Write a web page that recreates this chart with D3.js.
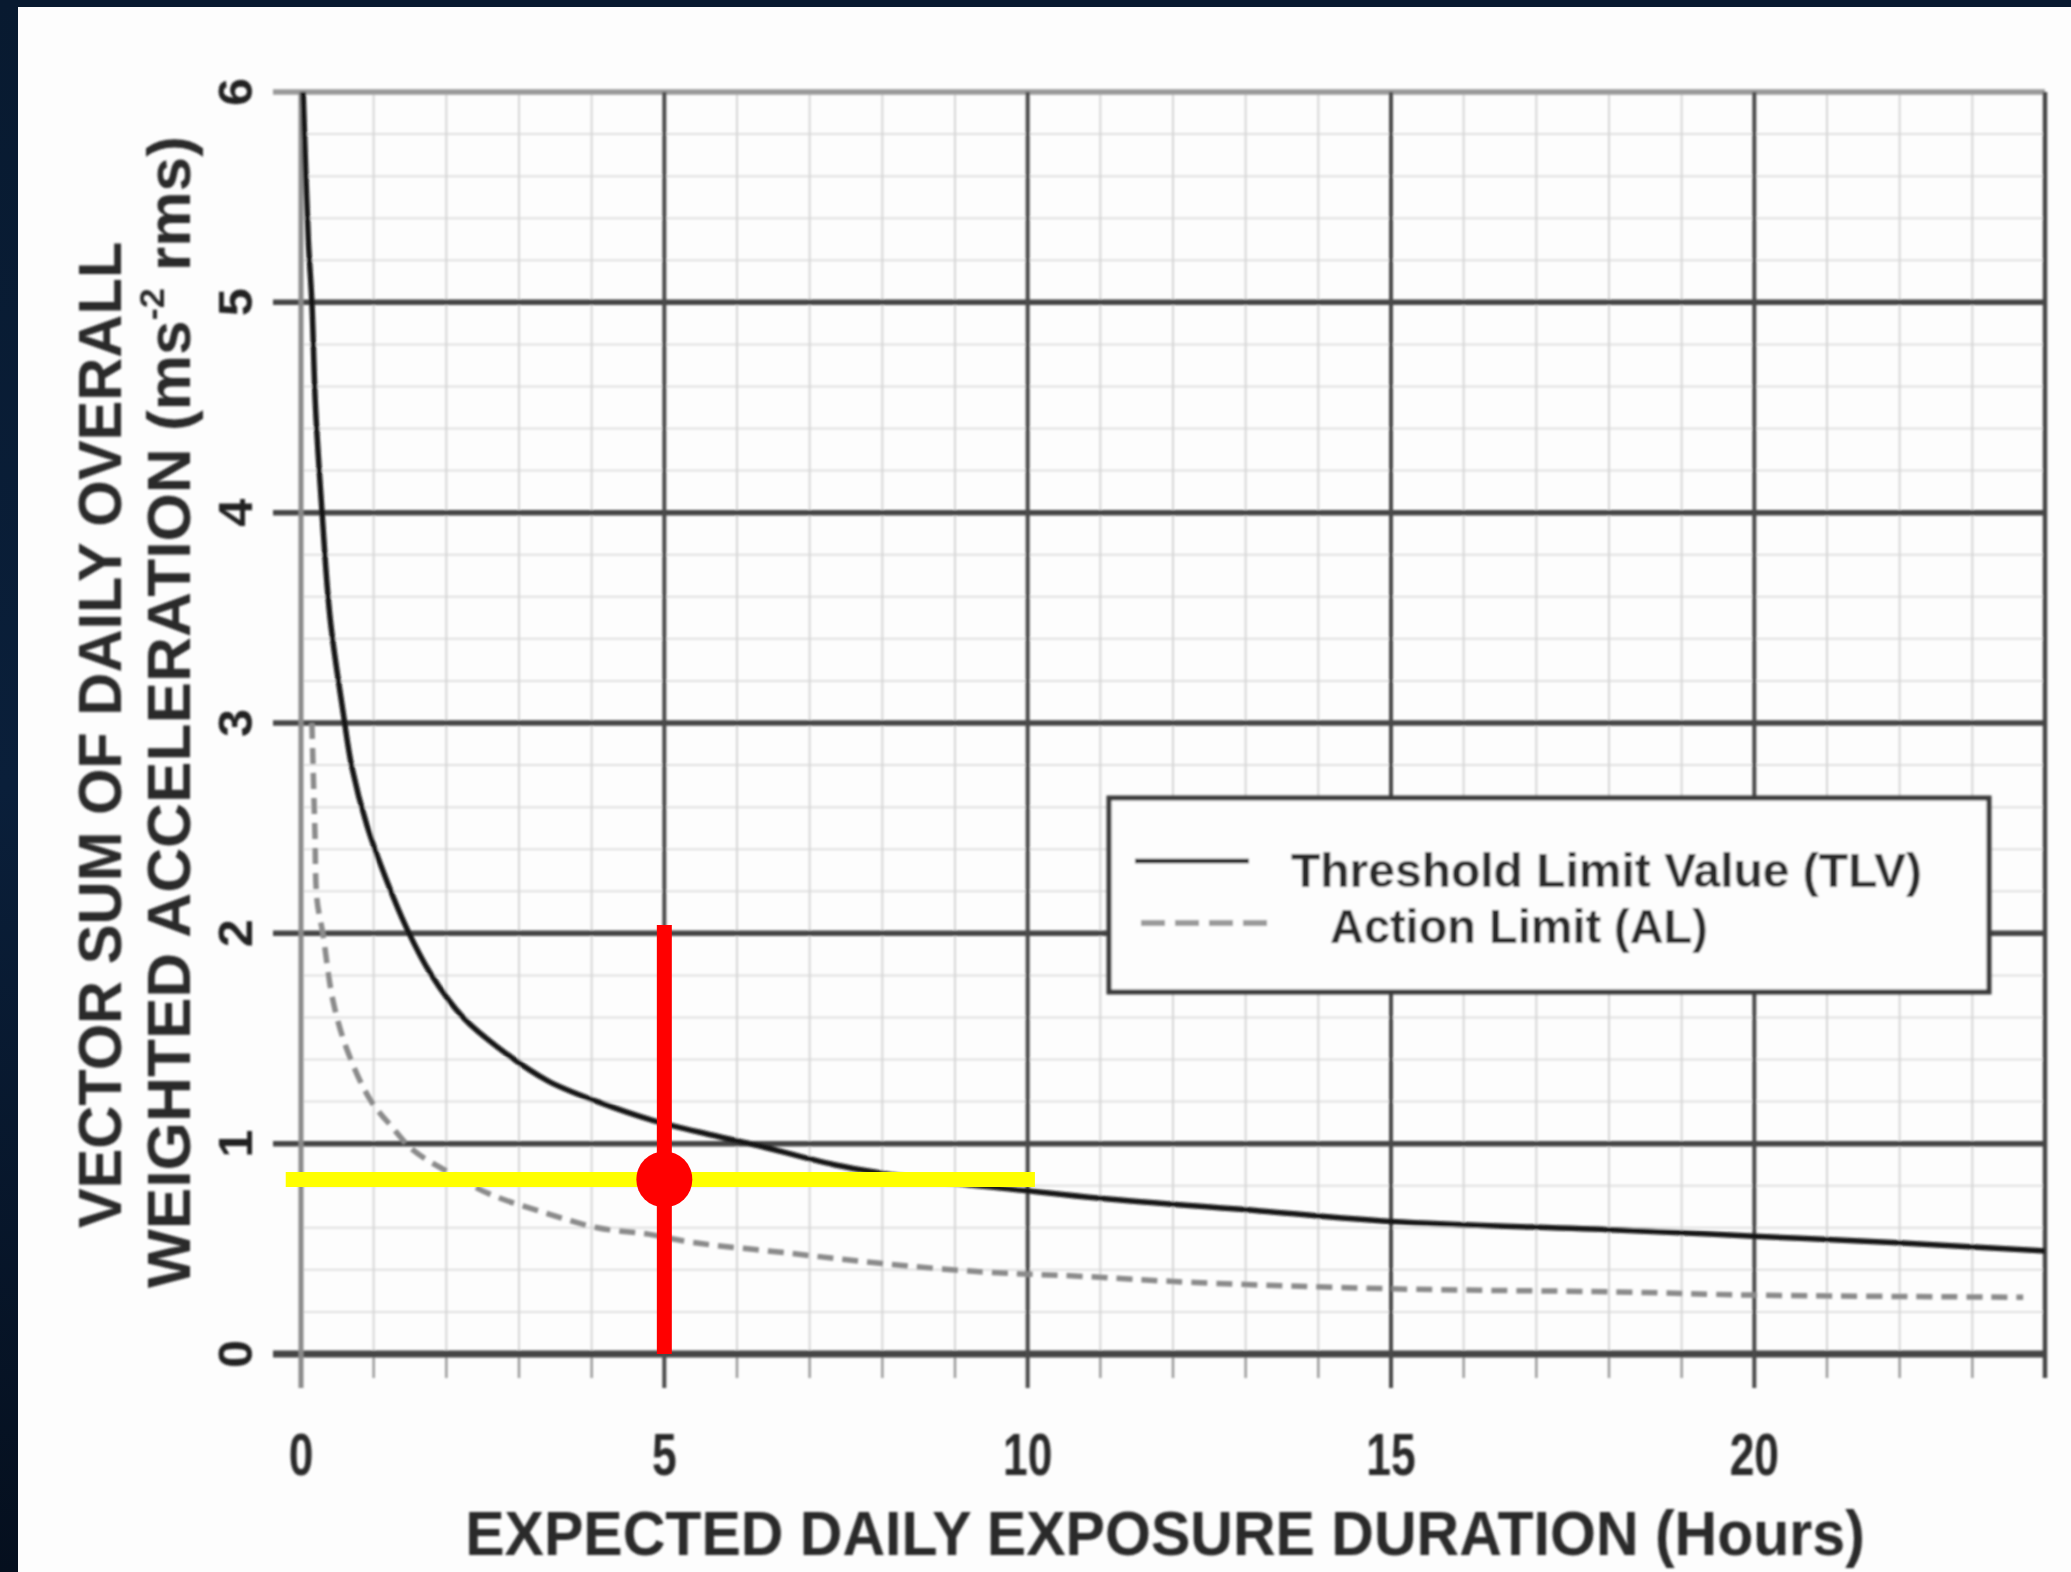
<!DOCTYPE html>
<html>
<head>
<meta charset="utf-8">
<script src="https://cdn.jsdelivr.net/npm/d3@7"></script>
<style>
  html, body { margin: 0; padding: 0; background: #071629; }
  svg { display: block; }
</style>
</head>
<body>
<svg id="chart" width="2071" height="1572"></svg>
<script>
// ---------------- data ----------------
const hourTicks = [0, 5, 10, 15, 20];
const accelTicks = [0, 1, 2, 3, 4, 5, 6];

const tlvHours  = [0.03, 0.10, 0.15, 0.20, 0.29, 0.40, 0.58, 0.70, 0.91, 1.18, 1.46, 1.78, 2.23, 2.70, 3.39, 4.08, 4.85, 5.67, 6.30, 7.34, 8.57, 9.90, 11.0, 13.2, 15.0, 18.1, 20.0, 21.9, 24.0];
const tlvValues = [6.00, 5.30, 5.00, 4.50, 4.00, 3.50, 3.05, 2.79, 2.51, 2.25, 2.02, 1.81, 1.60, 1.46, 1.30, 1.20, 1.11, 1.04, 0.99, 0.90, 0.83, 0.78, 0.74, 0.68, 0.63, 0.59, 0.56, 0.53, 0.49];

const alHours  = [0.15, 0.19, 0.22, 0.30, 0.44, 0.63, 0.95, 1.25, 1.54, 2.00, 2.60, 3.37, 4.08, 4.78, 5.40, 6.70, 8.00, 9.40, 10.7, 12.3, 15.0, 18.1, 20.0, 23.7];
const alValues = [3.00, 2.50, 2.16, 2.00, 1.68, 1.45, 1.21, 1.08, 0.97, 0.87, 0.76, 0.67, 0.60, 0.57, 0.53, 0.48, 0.43, 0.39, 0.37, 0.34, 0.31, 0.295, 0.28, 0.27];

const legendLabels = ["Threshold Limit Value (TLV)", "Action Limit (AL)"];

// highlighted reading (overlay)
const markHours = [5];          // red vertical marker
const markTop = [2.04];         // top of red marker
const markValue = [0.83];       // yellow horizontal level
const markSpan = [-0.21, 10.1]; // yellow line extent (hours)

// ---------------- setup ----------------
const svg = d3.select("#chart");
const W = 2071, H = 1572;
const FONT = "'Liberation Sans', Arial, sans-serif";

const x = d3.scaleLinear().domain([0, 24]).range([301, 2045]);
const y = d3.scaleLinear().domain([0, 6]).range([1354, 92]);

const defs = svg.append("defs");
const bg = defs.append("linearGradient").attr("id", "bg").attr("x1", 0).attr("y1", 0).attr("x2", 0).attr("y2", 1);
bg.append("stop").attr("offset", "0%").attr("stop-color", "#081a30");
bg.append("stop").attr("offset", "50%").attr("stop-color", "#0a1f3a");
bg.append("stop").attr("offset", "100%").attr("stop-color", "#050f1e");
defs.append("filter").attr("id", "soft")
  .append("feGaussianBlur").attr("stdDeviation", 0.9);

svg.append("rect").attr("width", W).attr("height", H).attr("fill", "url(#bg)");
svg.append("rect").attr("x", 18).attr("y", 7).attr("width", W - 18).attr("height", H - 7).attr("fill", "#fdfdfd");

const plot = svg.append("g").attr("filter", "url(#soft)");

// minor horizontal grid (every 0.2)
const minorY = d3.range(0, 6.0001, 0.2).filter(v => Math.abs(v - Math.round(v)) > 1e-6);
plot.append("g").selectAll("line").data(minorY).join("line")
  .attr("x1", x(0)).attr("x2", x(24))
  .attr("y1", d => y(d)).attr("y2", d => y(d))
  .attr("stroke", "#e0e0e0").attr("stroke-width", 2);

// minor vertical grid (every hour)
const minorX = d3.range(1, 24).filter(h => h % 5 !== 0);
plot.append("g").selectAll("line").data(minorX).join("line")
  .attr("x1", d => x(d)).attr("x2", d => x(d))
  .attr("y1", y(6)).attr("y2", y(0))
  .attr("stroke", "#d6d6d6").attr("stroke-width", 2);
// tick stubs below axis
plot.append("g").selectAll("line").data(minorX).join("line")
  .attr("x1", d => x(d)).attr("x2", d => x(d))
  .attr("y1", y(0)).attr("y2", y(0) + 24)
  .attr("stroke", "#9a9a9a").attr("stroke-width", 2.5);

// major horizontal lines
plot.append("g").selectAll("line").data(accelTicks).join("line")
  .attr("x1", 273).attr("x2", x(24))
  .attr("y1", d => y(d)).attr("y2", d => y(d))
  .attr("stroke", d => d === 6 ? "#9a9a9a" : "#444")
  .attr("stroke-width", d => d === 0 ? 7 : 5.5);

// major vertical lines
plot.append("g").selectAll("line").data(hourTicks).join("line")
  .attr("x1", d => x(d)).attr("x2", d => x(d))
  .attr("y1", y(6)).attr("y2", y(0) + 34)
  .attr("stroke", d => d === 0 ? "#8a8a8a" : "#4a4a4a")
  .attr("stroke-width", d => d === 0 ? 5 : 4);
// right border
plot.append("line").attr("x1", x(24)).attr("x2", x(24)).attr("y1", y(6)).attr("y2", y(0) + 24)
  .attr("stroke", "#444").attr("stroke-width", 4.5);

// curves
const alPts = alHours.map((h, i) => [h, alValues[i]]);
const tlvPts = tlvHours.map((h, i) => [h, tlvValues[i]]);
const lineY = d3.line().x(d => x(d[0])).y(d => y(d[1])).curve(d3.curveCatmullRom.alpha(0.5));

plot.append("path").datum(alPts).attr("d", lineY)
  .attr("fill", "none").attr("stroke", "#8a8a8a").attr("stroke-width", 5.5)
  .attr("stroke-dasharray", "16 9");
plot.append("path").datum(tlvPts).attr("d", lineY)
  .attr("fill", "none").attr("stroke", "#141414").attr("stroke-width", 5.5);

// ---------------- text helpers ----------------
function fitText(parent, str, opts) {
  const g = parent.append("g")
    .attr("transform", `translate(${opts.x},${opts.y}) rotate(${opts.rotate || 0})`);
  const t = g.append("text")
    .attr("font-family", opts.family || FONT)
    .attr("font-size", opts.size)
    .attr("font-weight", opts.weight || "bold")
    .attr("fill", opts.fill || "#262626")
    .attr("text-anchor", opts.anchor || "middle");
  if (typeof str === "function") str(t); else t.text(str);
  if (opts.width) {
    const w = t.node().getBBox().width;
    t.attr("transform", `scale(${opts.width / w},1)`);
  } else if (opts.sx) {
    t.attr("transform", `scale(${opts.sx},1)`);
  }
  return t;
}

const texts = svg.append("g").attr("filter", "url(#soft)");

// x tick labels
hourTicks.forEach(h => {
  fitText(texts, String(h), { x: x(h), y: 1475, size: 60, sx: 0.74, fill: "#2a2a2a" });
});
// y tick labels (rotated as in the scan)
accelTicks.forEach(v => {
  fitText(texts, String(v), { x: 252, y: y(v), rotate: -90, size: 48, sx: 1.05, fill: "#222" });
});

// axis titles
fitText(texts, "EXPECTED DAILY EXPOSURE DURATION  (Hours)",
  { x: 1165, y: 1555, size: 62, width: 1400, fill: "#2a2a2a" });
fitText(texts, "VECTOR SUM OF DAILY OVERALL",
  { x: 121, y: 735, rotate: -90, size: 62, width: 987, fill: "#2a2a2a" });
fitText(texts, t => {
  t.append("tspan").text("WEIGHTED ACCELERATION (ms");
  t.append("tspan").attr("font-size", 36).attr("dy", -26).text("-2");
  t.append("tspan").attr("dy", 26).text(" rms)");
}, { x: 190, y: 712, rotate: -90, size: 62, width: 1152, fill: "#2a2a2a" });

// ---------------- legend ----------------
const lg = svg.append("g").attr("filter", "url(#soft)");
lg.append("rect").attr("x", 1109).attr("y", 798).attr("width", 880).attr("height", 194)
  .attr("fill", "#fdfdfd").attr("stroke", "#3a3a3a").attr("stroke-width", 5);
lg.append("line").attr("x1", 1135).attr("x2", 1249).attr("y1", 861).attr("y2", 861)
  .attr("stroke", "#141414").attr("stroke-width", 4.5);
lg.append("line").attr("x1", 1141).attr("x2", 1275).attr("y1", 923).attr("y2", 923)
  .attr("stroke", "#9a9a9a").attr("stroke-width", 6).attr("stroke-dasharray", "24 10");
fitText(lg, legendLabels[0], { x: 1291, y: 887, size: 48, anchor: "start", width: 631, fill: "#2a2a2a" });
fitText(lg, legendLabels[1], { x: 1330, y: 943, size: 48, anchor: "start", width: 378, fill: "#2a2a2a" });

// ---------------- overlay marks ----------------
const ov = svg.append("g");
ov.selectAll("line.yel").data(markValue).join("line").attr("class", "yel")
  .attr("x1", x(markSpan[0])).attr("x2", x(markSpan[1]))
  .attr("y1", d => y(d)).attr("y2", d => y(d))
  .attr("stroke", "#ffff00").attr("stroke-width", 15);
ov.selectAll("line.red").data(markHours).join("line").attr("class", "red")
  .attr("x1", d => x(d)).attr("x2", d => x(d))
  .attr("y1", (d, i) => y(markTop[i])).attr("y2", y(0))
  .attr("stroke", "#ff0000").attr("stroke-width", 15);
ov.selectAll("circle").data(markHours).join("circle")
  .attr("cx", d => x(d)).attr("cy", (d, i) => y(markValue[i]))
  .attr("r", 28).attr("fill", "#ff0000");
</script>
</body>
</html>
